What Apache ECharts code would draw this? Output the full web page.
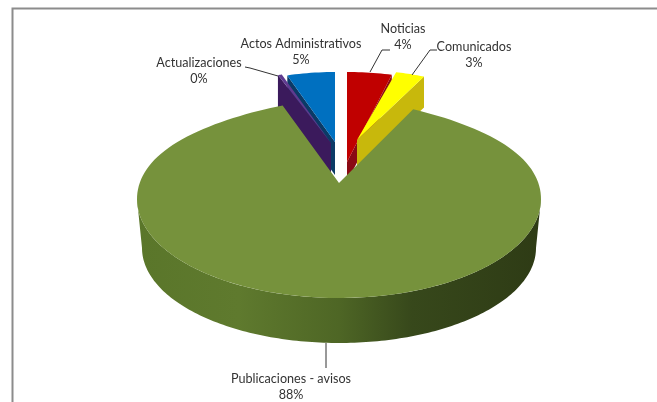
<!DOCTYPE html>
<html><head><meta charset="utf-8">
<style>html,body{margin:0;padding:0;background:#fff}#c{width:657px;height:402px}</style>
<script src="https://cdn.jsdelivr.net/npm/echarts@6/dist/echarts.min.js"></script>
</head><body><div id="c"></div>
<script>
// Data, clockwise from the top of the pie
const categories = ['Noticias', 'Comunicados', 'Publicaciones - avisos', 'Actualizaciones', 'Actos Administrativos'];
const values = [4, 3, 88, 0.4, 5];

// Layout of each slice (projection of the 3D view)
const sliceGeom = [
  {ax:347, ay:162, rx:181, ry:90, h:20, face:'#c00000', side:'#8a0a14'},
  {ax:357, ay:140, rx:158, ry:70, h:31, face:'#ffff00', side:'#c8b80c'},
  {ax:339, ay:183, rx:202, ry:99, h:0,  face:'#76923c', side:'#55702a'},
  {ax:331, ay:143, rx:160, ry:72, h:34, face:'#5f3a8f', side:'#3b1a5c'},
  {ax:335, ay:142, rx:155, ry:70, h:33, face:'#0070c0', side:'#0b3a66'}
];
const drawOrder = [4, 3, 0, 1, 2];
const labelGeom = [
  {x:403, y:29, line:[[390,50],[382,50],[370,72]]},
  {x:474, y:47, line:[[437,50],[430,50],[412,75]]},
  {x:291, y:379, line:[[326,343],[326,368]]},
  {x:199, y:63, line:[[245,67],[250,68],[278,76]]},
  {x:301, y:44, line:null}
];
const mainEllipse = {cx:339, cy:199, rx:202, ry:99};
const baseEllipse = {cx:339, cy:248, rx:197, ry:95};

const total = values.reduce((a,b)=>a+b,0);
const starts = []; let acc = 0;
values.forEach(v=>{starts.push(acc/total*Math.PI*2); acc+=v;});
const ends = values.map((v,i)=>starts[i]+v/total*Math.PI*2);

function persp(t){ const c=Math.max(0,Math.cos(t)); return 1-0.2*c*c*c*c; }

function renderSlice(params, api){
  const i = api.value(0), g = sliceGeom[i], a0 = starts[i], a1 = ends[i];
  const children = [];
  const z = params.dataIndex*3;
  if(i === 2){
    const E = mainEllipse, B = baseEllipse, N = 160;
    const arc = [];
    for(let k=0;k<=N;k++){
      const t=a0+(a1-a0)*k/N;
      arc.push([E.cx+E.rx*Math.sin(t)*persp(t), E.cy-E.ry*Math.cos(t)]);
    }
    const side = [];
    for(let k=0;k<=N;k++){ const t=Math.PI/2+Math.PI*k/N; side.push([E.cx+E.rx*Math.sin(t),E.cy-E.ry*Math.cos(t)]); }
    for(let k=N;k>=0;k--){ const t=Math.PI/2+Math.PI*k/N; side.push([B.cx+B.rx*Math.sin(t),B.cy-B.ry*Math.cos(t)]); }
    children.push({type:'polygon',z2:z,shape:{points:side},style:{fill:{type:'linear',x:0,y:0,x2:1,y2:0,colorStops:[
      {offset:0,color:'#5a762a'},{offset:0.25,color:'#5f7a2e'},{offset:0.5,color:'#4e6625'},
      {offset:0.68,color:'#37481b'},{offset:1,color:'#2e3b15'}]}}});
    children.push({type:'polygon',z2:z+1,shape:{points:[[g.ax,g.ay]].concat(arc)},style:{fill:g.face}});
  } else {
    const pt = t=>[g.ax+g.rx*Math.sin(t), g.ay-g.ry*Math.cos(t)];
    const arc=[]; for(let k=0;k<=12;k++) arc.push(pt(a0+(a1-a0)*k/12));
    const rim = (i===0||i===1) ? a1 : a0;
    const p = pt(rim);
    children.push({type:'polygon',z2:z,shape:{points:[p,[g.ax,g.ay],[g.ax,g.ay+g.h],[p[0],p[1]+g.h]]},style:{fill:g.side}});
    children.push({type:'polygon',z2:z+1,shape:{points:[[g.ax,g.ay]].concat(arc)},style:{fill:g.face}});
  }
  return {type:'group',children};
}

function renderLabel(params, api){
  const i = api.value(0), L = labelGeom[i];
  const pct = Math.round(values[i]/total*100)+'%';
  const children = [{type:'text',z2:50,x:L.x,y:L.y+8,style:{text:categories[i]+'\n'+pct,x:0,y:0,
    font:'12.6px Lato',fill:'#333333',align:'center',verticalAlign:'middle',lineHeight:16.5}}];
  if(L.line) children.push({type:'polyline',z2:49,shape:{points:L.line},style:{stroke:'#333',lineWidth:1,fill:'none'}});
  return {type:'group',children};
}

const chart = echarts.init(document.getElementById('c'),null,{renderer:'canvas'});
chart.setOption({
  animation:false,
  backgroundColor:'#fff',
  graphic:[{type:'polyline',z:100,silent:true,shape:{points:[[12.5,402],[12.5,8.5],[657,8.5]]},style:{stroke:'#8c8c8c',lineWidth:2,fill:'none'}}],
  series:[
    {type:'custom',coordinateSystem:'none',renderItem:renderSlice,data:drawOrder.map(i=>[i]),z:2,silent:true},
    {type:'custom',coordinateSystem:'none',renderItem:renderLabel,data:categories.map((c,i)=>[i]),z:3,silent:true}
  ]
});
</script></body></html>
